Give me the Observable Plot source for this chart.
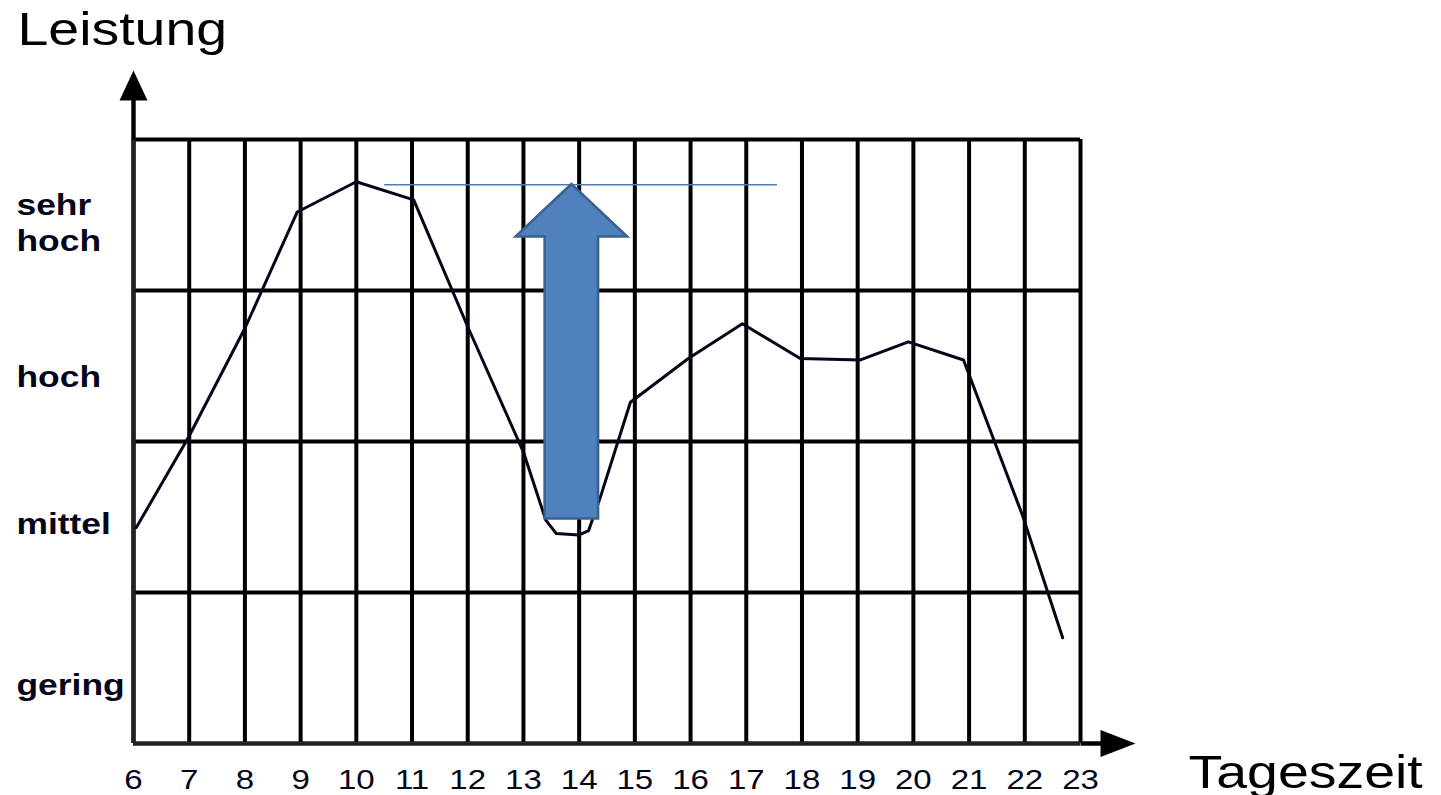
<!DOCTYPE html>
<html>
<head>
<meta charset="utf-8">
<script src="https://cdn.jsdelivr.net/npm/d3@7"></script>
<script src="https://cdn.jsdelivr.net/npm/@observablehq/plot@0.6"></script>
<style>
  html, body { margin: 0; padding: 0; background: #fff; }
  #chart svg { display: block; }
</style>
</head>
<body>
<div id="chart"></div>
<script>
// ---- data ----
const hours = [6, 7, 8, 9, 10, 11, 12, 13, 14, 15, 16, 17, 18, 19, 20, 21, 22, 23];
const hourLabels = ["6", "7", "8", "9", "10", "11", "12", "13", "14", "15", "16", "17", "18", "19", "20", "21", "22", "23"];
const levelLines = [1, 2, 3, 4];
const levelLabels = ["gering", "mittel", "hoch", "sehr\nhoch"];
const levelLabelPos = [0.32, 1.39, 2.36, 3.26];

// performance curve over the day
const curveHours  = [6.05, 6.99, 8.0, 8.94, 10.0, 11.03, 12.0, 13.0, 13.4, 13.59, 13.99, 14.17, 14.38, 14.92, 15.96, 16.93, 17.97, 19.05, 19.91, 20.9, 21.96, 22.68];
const curveLevels = [1.43, 2.03, 2.75, 3.52, 3.72, 3.60, 2.76, 1.93, 1.48, 1.39, 1.38, 1.41, 1.63, 2.26, 2.55, 2.78, 2.55, 2.54, 2.66, 2.54, 1.51, 0.70];

// annotation: big blue arrow and thin reference line
const boostHour = 13.86, boostFrom = 1.49, boostTo = 3.705;
const refLevel = 3.70, refFrom = 10.51, refTo = 17.56;

const yTitle = "Leistung";
const xTitle = "Tageszeit";

// ---- layout ----
const W = 1441, H = 795;
const mL = 133, mR = 361, mT = 139, mB = 52;
const yDomain = [0, 4], xDomain = [6, 23];
const pxPerLevel = (H - mT - mB) / (yDomain[1] - yDomain[0]);

// custom symbols (drawn relative to their anchor point)
const yAxisHead = { draw(ctx) {
  ctx.moveTo(-2.2, 0); ctx.lineTo(-2.2, -39); ctx.lineTo(-14, -39);
  ctx.lineTo(0, -69); ctx.lineTo(14, -39); ctx.lineTo(2.2, -39); ctx.lineTo(2.2, 0); ctx.closePath();
}};
const xAxisHead = { draw(ctx) {
  ctx.moveTo(0, -2.2); ctx.lineTo(20, -2.2); ctx.lineTo(20, -13.5);
  ctx.lineTo(55, 0); ctx.lineTo(20, 13.5); ctx.lineTo(20, 2.2); ctx.lineTo(0, 2.2); ctx.closePath();
}};
const boostLen = (boostTo - boostFrom) * pxPerLevel;
const blockArrow = { draw(ctx) {
  const hw = 55.7, sw = 26.7, hh = 52.5, L = boostLen;
  ctx.moveTo(0, 0); ctx.lineTo(hw, hh); ctx.lineTo(sw, hh); ctx.lineTo(sw, L);
  ctx.lineTo(-sw, L); ctx.lineTo(-sw, hh); ctx.lineTo(-hw, hh); ctx.closePath();
}};

const curve = curveHours.map((h, i) => ({hour: h, level: curveLevels[i]}));
const ticks = hours.map((h, i) => ({hour: h, label: hourLabels[i]}));
const levels = levelLabels.map((t, i) => ({label: t, pos: levelLabelPos[i]}));

const FONT = "'Liberation Sans', Arial, Helvetica, sans-serif";
const INK = "#000";

const svg = Plot.plot({
  width: W, height: H,
  marginLeft: mL, marginRight: mR, marginTop: mT, marginBottom: mB,
  x: {domain: xDomain, axis: null},
  y: {domain: yDomain, axis: null},
  style: {fontFamily: FONT, background: "#fff", overflow: "visible"},
  marks: [
    // grid
    Plot.ruleX(hours, {x: d => d, y1: yDomain[0], y2: yDomain[1], stroke: INK, strokeWidth: 4}),
    Plot.ruleY(levelLines, {y: d => d, x1: xDomain[0], x2: xDomain[1], stroke: INK, strokeWidth: 4}),
    // axes with arrow heads
    Plot.ruleX([xDomain[0]], {x: d => d, y1: yDomain[0], y2: yDomain[1], stroke: "#222", strokeWidth: 4.4}),
    Plot.ruleY([yDomain[0]], {y: d => d, x1: xDomain[0], x2: xDomain[1], stroke: "#222", strokeWidth: 4.4}),
    Plot.dot([{x: xDomain[0], y: yDomain[1]}], {x: "x", y: "y", symbol: yAxisHead, fill: INK, stroke: "none"}),
    Plot.dot([{x: xDomain[1], y: yDomain[0]}], {x: "x", y: "y", symbol: xAxisHead, fill: INK, stroke: "none"}),
    // thin reference line
    Plot.ruleY([refLevel], {y: d => d, x1: refFrom, x2: refTo, stroke: "#4a7ebb", strokeWidth: 1.6}),
    // performance curve
    Plot.line(curve, {x: "hour", y: "level", stroke: "#05051a", strokeWidth: 3}),
    // big block arrow
    Plot.dot([{x: boostHour, y: boostTo}], {x: "x", y: "y", symbol: blockArrow, fill: "#4f81bd", stroke: "#3a6191", strokeWidth: 2.6}),
    // hour tick labels
    Plot.text(ticks, {x: "hour", text: "label", frameAnchor: "bottom", dy: 45, lineAnchor: "bottom",
      fontSize: 28, fill: "#05051a"}),
    // level labels
    Plot.text(levels, {y: "pos", text: "label", frameAnchor: "left", dx: 16 - mL, textAnchor: "start",
      lineAnchor: "bottom", lineHeight: 1.2, fontSize: 30, fontWeight: "bold", fill: "#05051a"}),
    // titles
    Plot.text([yTitle], {frameAnchor: "top-left", dx: 17 - mL, dy: 44 - mT, textAnchor: "start",
      lineAnchor: "bottom", fontSize: 47, fill: INK}),
    Plot.text([xTitle], {frameAnchor: "bottom-right", dx: 108, dy: 44, textAnchor: "start",
      lineAnchor: "bottom", fontSize: 47, fill: INK})
  ]
});

// the reference's lettering is horizontally wide: stretch every text around its anchor
svg.querySelectorAll("text").forEach(t => {
  const tr = t.getAttribute("transform");
  if (tr) t.setAttribute("transform", tr + " scale(1.18,1)");
});

document.getElementById("chart").appendChild(svg);
</script>
</body>
</html>
